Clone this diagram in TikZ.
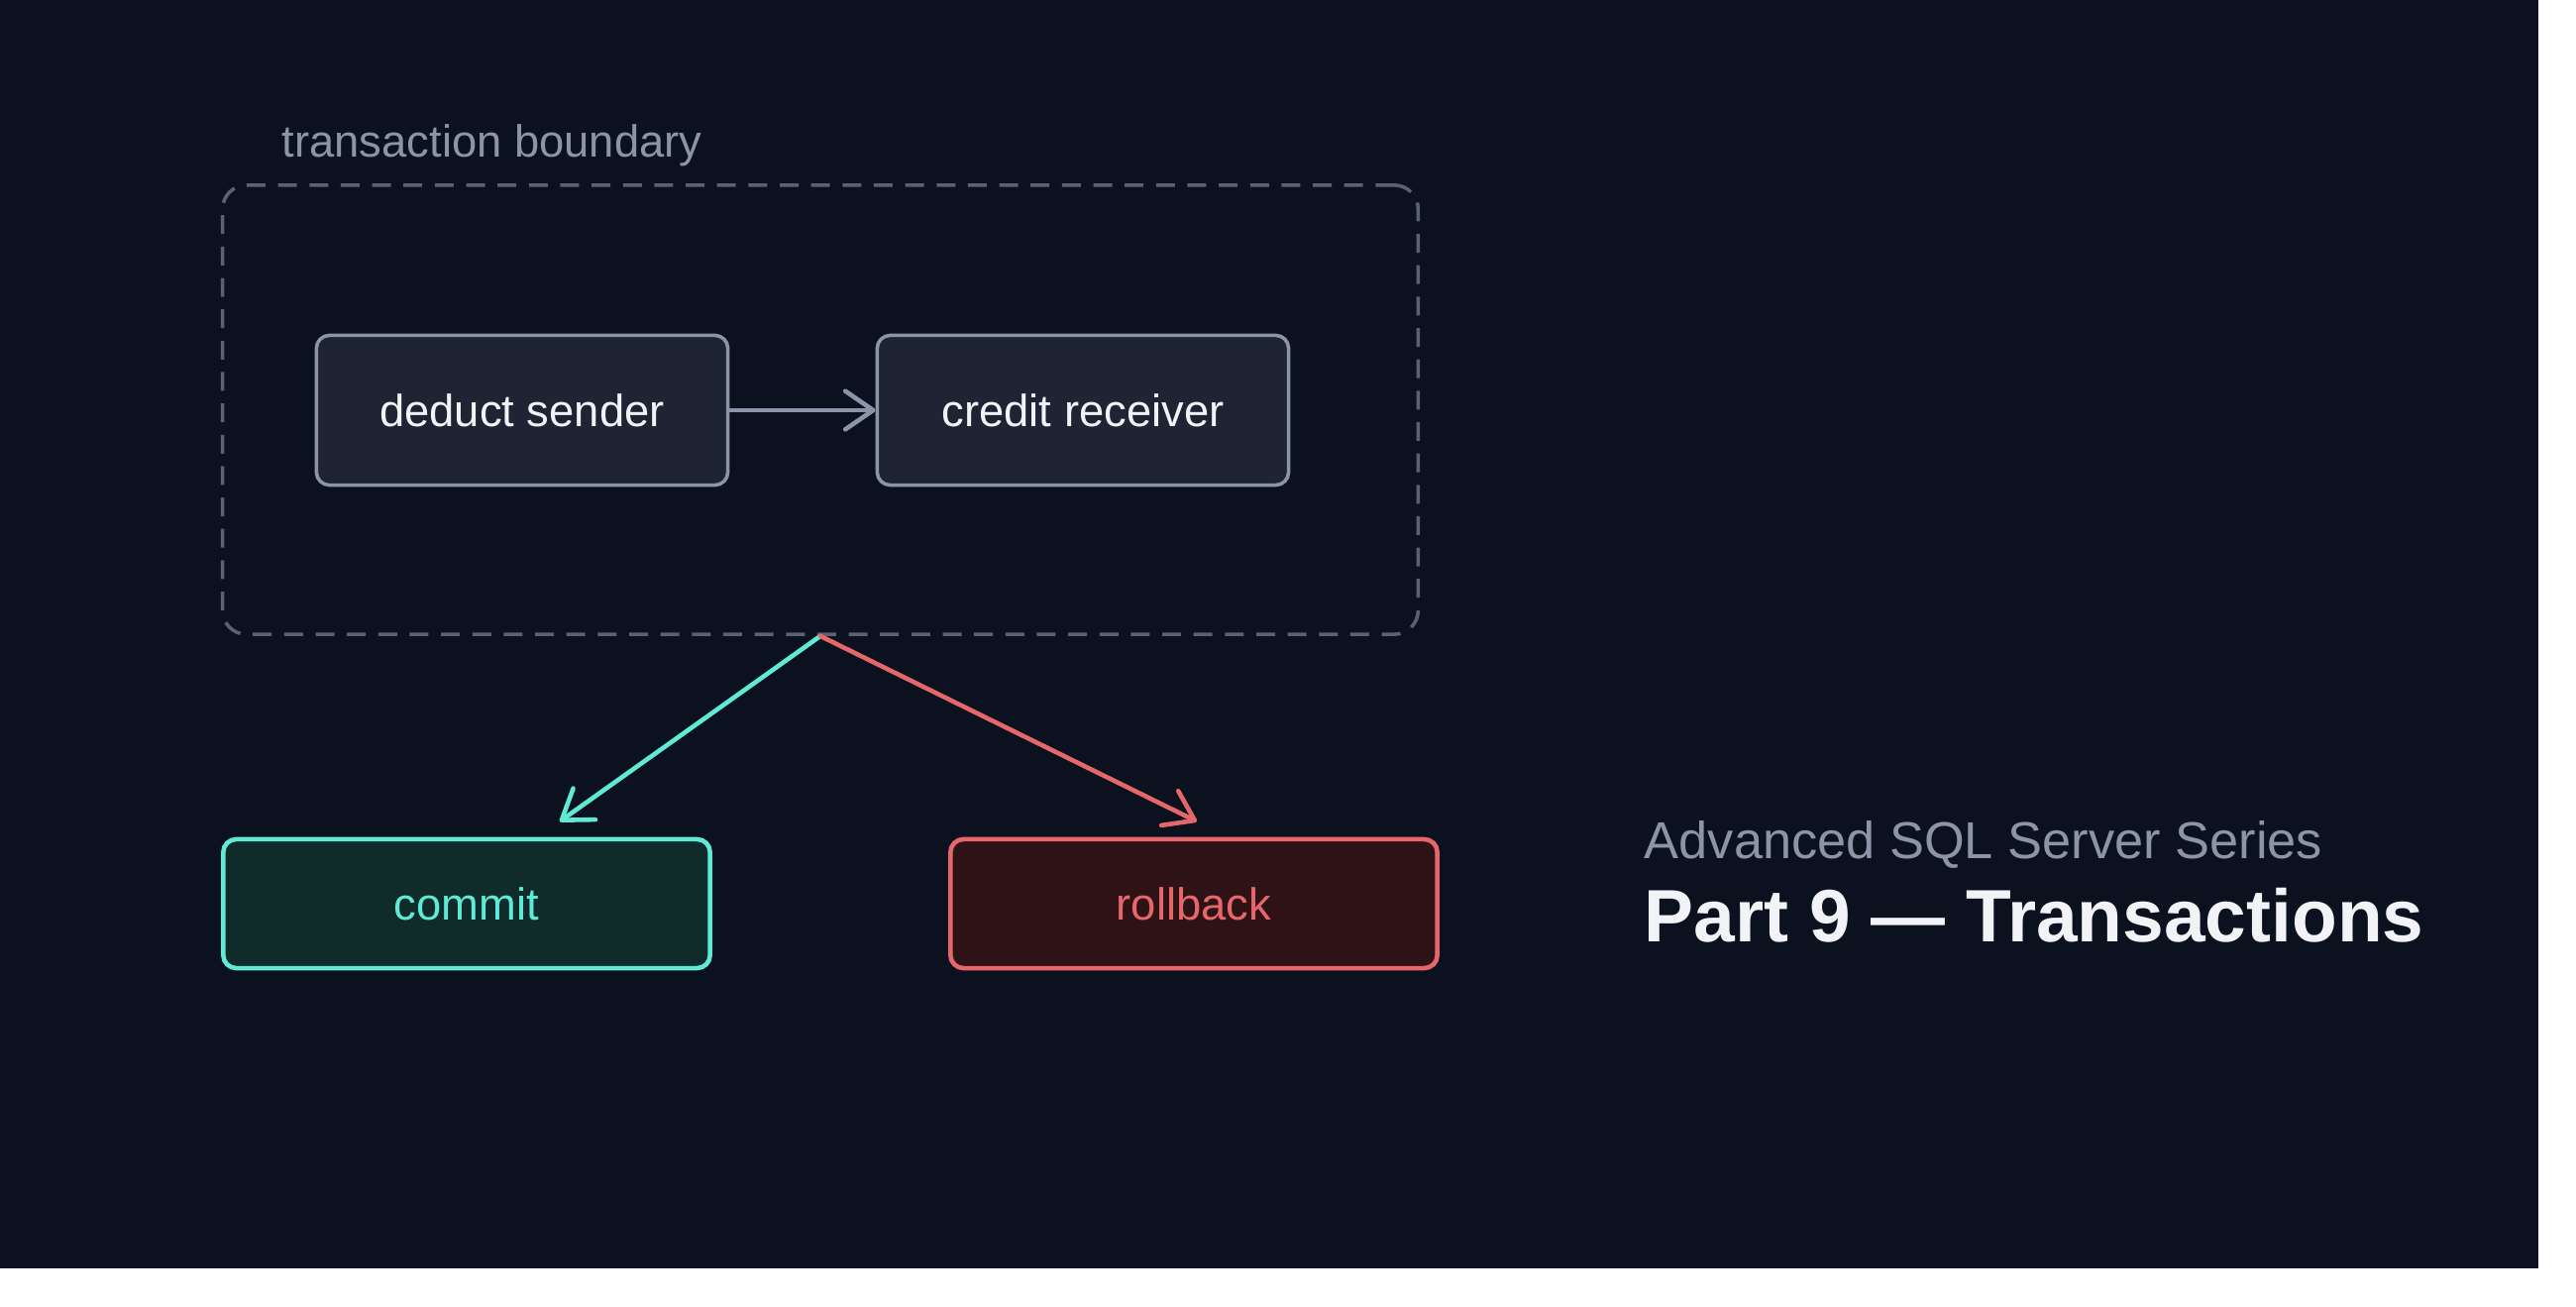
\documentclass[tikz,border=0pt]{standalone}
\usepackage{fontspec}
\setmainfont{Liberation Sans}
\usetikzlibrary{arrows.meta}

\definecolor{bgdark}{HTML}{0B111E}
\definecolor{boxfill}{HTML}{1E2433}
\definecolor{edgegrey}{HTML}{8B95A7}
\definecolor{dashgrey}{HTML}{596173}
\definecolor{textwhite}{HTML}{F1F3F7}
\definecolor{okteal}{HTML}{5EEAD4}
\definecolor{okfill}{HTML}{0F2B2A}
\definecolor{badred}{HTML}{E5676A}
\definecolor{badfill}{HTML}{2E1216}

\begin{document}
\begin{tikzpicture}[x=.01cm,y=-.01cm,
  stepbox/.style={draw=edgegrey,fill=boxfill,line width=1pt,rounded corners=.13cm,
    minimum width=4.15cm,minimum height=1.51cm,text=textwhite,font=\fontsize{12.9}{15}\selectfont},
  endbox/.style={line width=1.3pt,rounded corners=.13cm,
    minimum width=4.91cm,minimum height=1.30cm,font=\fontsize{12.9}{15}\selectfont},
  bound/.style={draw=dashgrey,line width=1pt,dash pattern=on 5.4pt off 3.6pt,
    rounded corners=.24cm,minimum width=12.06cm,minimum height=4.53cm},
  link/.style={line width=1.3pt,line cap=round,-{Straight Barb[length=8pt,width=11pt,round]}}]

\useasboundingbox (0,0) rectangle (2600,1319);
\fill[bgdark] (0,0) rectangle (2562,1280);

% transaction boundary
\node[bound] (trx) at (828,413.5) {};
\node[anchor=base west,text=edgegrey,font=\fontsize{12.9}{15}\selectfont,inner sep=0pt]
  (trxlabel) at (284,159) {transaction boundary};

\node[stepbox] (deduct) at (527,414) {deduct sender};
\node[stepbox] (credit) at (1093,414) {credit receiver};
\draw[link,draw=edgegrey] (deduct) -- (credit);

% outcomes
\node[endbox,draw=okteal,fill=okfill,text=okteal] (commit) at (471,912) {commit};
\node[endbox,draw=badred,fill=badfill,text=badred] (rollback) at (1205,912) {rollback};
\coordinate (tocommit) at (565,829);
\coordinate (torollback) at (1208,829);
\draw[link,draw=okteal] (trx.south) -- (tocommit);
\draw[link,draw=badred] (trx.south) -- (torollback);

% title
\node[anchor=base west,text=edgegrey,font=\fontsize{14.9}{18}\selectfont,inner sep=0pt]
  (series) at (1659,866) {Advanced SQL Server Series};
\node[anchor=base west,text=textwhite,font=\fontsize{21.3}{25}\selectfont\bfseries,inner sep=0pt]
  (part) at (1659,950) {Part 9 — Transactions};
\end{tikzpicture}
\end{document}
